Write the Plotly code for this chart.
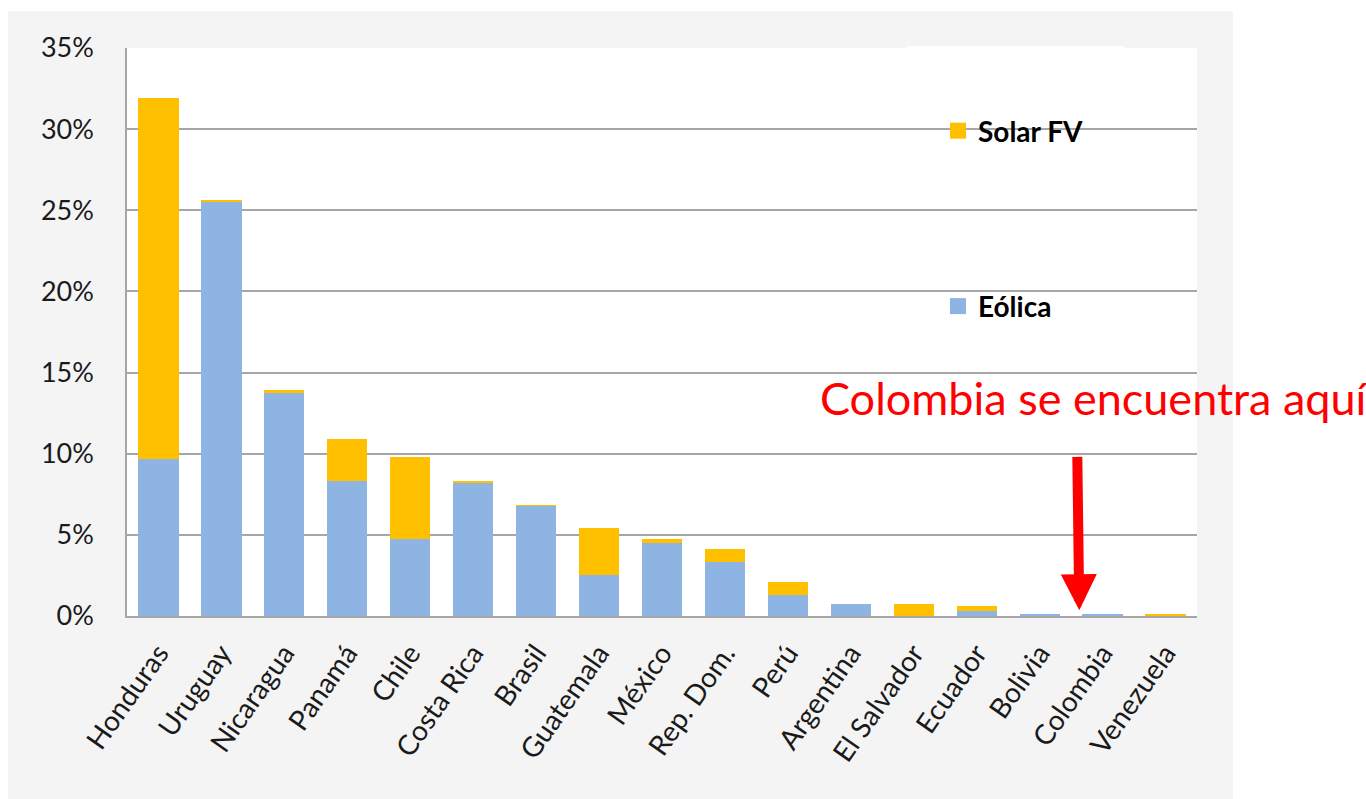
import plotly.graph_objects as go

countries = ["Honduras", "Uruguay", "Nicaragua", "Panamá", "Chile", "Costa Rica", "Brasil",
             "Guatemala", "México", "Rep. Dom.", "Perú", "Argentina", "El Salvador", "Ecuador",
             "Bolivia", "Colombia", "Venezuela"]
eolica = [9.7, 25.55, 13.8, 8.3, 4.75, 8.2, 6.8, 2.53, 4.5, 3.3, 1.3, 0.76, 0.0, 0.33, 0.1, 0.1, 0.05]
solar = [22.2, 0.08, 0.1, 2.6, 5.05, 0.07, 0.03, 2.88, 0.25, 0.8, 0.78, 0.0, 0.74, 0.3, 0.0, 0.0, 0.03]
series_names = ["Eólica", "Solar FV"]
y_ticks = [0, 5, 10, 15, 20, 25, 30, 35]
y_ticktext = [f"{v}%" for v in y_ticks]

BLUE = "#8EB4E3"
YELLOW = "#FFC000"
FONT = "Lato, Carlito, Calibri, sans-serif"

fig = go.Figure()
fig.add_trace(go.Bar(x=countries, y=eolica, name=series_names[0], marker=dict(color=BLUE, line=dict(width=0)),
                     showlegend=False))
fig.add_trace(go.Bar(x=countries, y=solar, name=series_names[1], marker=dict(color=YELLOW, line=dict(width=0)),
                     showlegend=False))
# legend entries (Solar FV listed first, as in the source)
fig.add_trace(go.Scatter(x=[None], y=[None], mode="markers", name=series_names[1], legendgroup="s",
                         marker=dict(symbol="square", size=16, color=YELLOW)))
fig.add_trace(go.Scatter(x=[None], y=[None], mode="markers", name=series_names[0], legendgroup="e",
                         marker=dict(symbol="square", size=16, color=BLUE)))

W, H = 1366, 799
L, R, T, B = 127, 169, 48, 183
pw, ph = W - L - R, H - T - B

def px(x):
    return (x - L) / pw

def py(y):
    return (H - B - y) / ph

shapes = [
    # white page outside the grey panel
    dict(type="rect", xref="paper", yref="paper", x0=px(1233), x1=px(1380), y0=py(820), y1=py(-20),
         fillcolor="white", line=dict(width=0), layer="below"),
    dict(type="rect", xref="paper", yref="paper", x0=px(-20), x1=px(1380), y0=py(11), y1=py(-20),
         fillcolor="white", line=dict(width=0), layer="below"),
    dict(type="rect", xref="paper", yref="paper", x0=px(-20), x1=px(8), y0=py(820), y1=py(-20),
         fillcolor="white", line=dict(width=0), layer="below"),
    # legend white box
    dict(type="rect", xref="paper", yref="paper", x0=px(907), x1=px(1124), y0=py(382), y1=py(46),
         fillcolor="white", line=dict(width=0), layer="between"),
]

annotations = [
    dict(text="Colombia se encuentra aquí", xref="paper", yref="paper", x=px(818), y=py(398),
         xanchor="left", yanchor="middle", showarrow=False,
         font=dict(family=FONT, size=45, color="#FF0000")),
    dict(text="", x=14.63, y=0.35, xref="x", yref="y", showarrow=True, axref="pixel", ayref="pixel",
         ax=-2, ay=-155, arrowhead=2, arrowwidth=10, arrowsize=0.72, arrowcolor="#FF0000"),
]

fig.update_layout(
    width=W, height=H,
    margin=dict(l=L, r=R, t=T, b=B),
    barmode="stack",
    bargap=0.36,
    paper_bgcolor="#F4F4F4",
    plot_bgcolor="white",
    font=dict(family=FONT, color="#262626"),
    shapes=shapes,
    annotations=annotations,
    legend=dict(x=px(938), y=py(106), xanchor="left", yanchor="top",
                traceorder="grouped", tracegroupgap=136,
                bgcolor="rgba(0,0,0,0)", font=dict(family=FONT, size=28, color="#000000", weight="bold"),
                itemclick=False),
    xaxis=dict(type="category", tickangle=-55, tickfont=dict(size=28, family=FONT, color="#1A1A1A"),
               showline=True, linecolor="#A6A6A6", linewidth=1.5, showgrid=False, ticks="",
               ticklabelstandoff=8),
    yaxis=dict(range=[0, 35], tickvals=y_ticks, ticktext=y_ticktext,
               tickfont=dict(size=27, family=FONT, color="#1A1A1A"),
               showline=True, linecolor="#A6A6A6", linewidth=1.5,
               showgrid=True, gridcolor="#A6A6A6", gridwidth=1.5, zeroline=False,
               ticks="", ticklabelstandoff=26),
)

fig.write_html("out.html")
